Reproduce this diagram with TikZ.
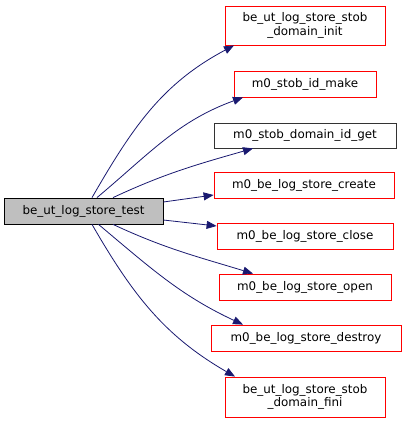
\documentclass[tikz,border=0pt]{standalone}
\usepackage{fontspec}
\setmainfont{DejaVu Sans}
\usetikzlibrary{arrows.meta}
\begin{document}
\begin{tikzpicture}[x=1pt,y=-1pt,
  txt/.style={font=\fontsize{11.9}{13.5}\selectfont},
  box/.style={txt,draw=red,line width=0.8pt,inner sep=0pt,align=center},
  mainbox/.style={txt,draw=black,fill=black!25,line width=0.8pt,inner sep=0pt},
  blackbox/.style={txt,draw=black!80,line width=0.8pt,inner sep=0pt},
  edge/.style={draw={rgb,255:red,25;green,25;blue,112},line width=0.8pt,-{Triangle[length=10pt,width=8pt]}}]
\useasboundingbox (0,0) rectangle (405,423);
\node[mainbox,minimum width=159,minimum height=26] (main) at (83.5,211) {be\_ut\_log\_store\_test};
\node[box,minimum width=160,minimum height=39] (n1) at (305,25.5) {be\_ut\_log\_store\_stob\\\_domain\_init};
\node[box,minimum width=142,minimum height=26] (n2) at (305,84) {m0\_stob\_id\_make};
\node[blackbox,minimum width=182,minimum height=25] (n3) at (305,135.5) {m0\_stob\_domain\_id\_get};
\node[box,minimum width=180,minimum height=26] (n4) at (304,185) {m0\_be\_log\_store\_create};
\node[box,minimum width=176,minimum height=26] (n5) at (305,236) {m0\_be\_log\_store\_close};
\node[box,minimum width=172,minimum height=26] (n6) at (305,287) {m0\_be\_log\_store\_open};
\node[box,minimum width=190,minimum height=26] (n7) at (306,338) {m0\_be\_log\_store\_destroy};
\node[box,minimum width=160,minimum height=40] (n8) at (305,397) {be\_ut\_log\_store\_stob\\\_domain\_fini};
\path[edge] ([xshift=8.5pt]main.north) to[out=60,in=208] ([xshift=-71pt]n1.south);
\path[edge] ([xshift=13.5pt]main.north) to[out=40,in=200] ([xshift=-62pt]n2.south);
\path[edge] ([xshift=29.5pt]main.north) to[out=25,in=196] ([xshift=-52pt]n3.south);
\path[edge] ([yshift=9pt]main.east) -- ([yshift=-10pt]n4.west);
\path[edge] ([yshift=-9pt]main.east) -- ([yshift=10pt]n5.west);
\path[edge] ([xshift=29.5pt]main.south) to[out=-25,in=163] ([xshift=-52pt]n6.north);
\path[edge] ([xshift=15pt]main.south) to[out=-40,in=155] ([xshift=-63pt]n7.north);
\path[edge] ([xshift=8.5pt]main.south) to[out=-60,in=150] ([xshift=-70pt]n8.north);
\end{tikzpicture}
\end{document}
